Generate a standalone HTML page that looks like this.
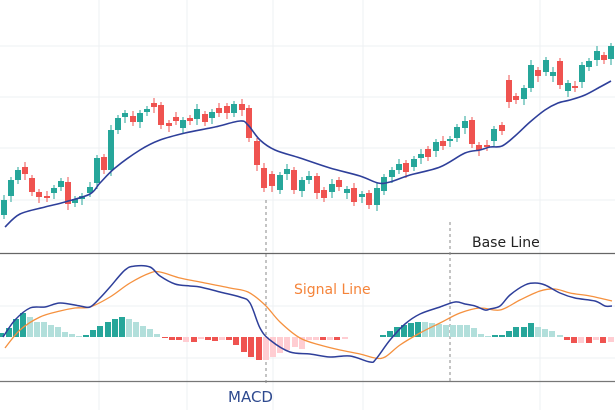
<!DOCTYPE html>
<html><head><meta charset="utf-8"><style>
html,body{margin:0;padding:0;background:#fff;width:615px;height:410px;overflow:hidden}
svg{display:block}
text{font-family:"DejaVu Sans","Liberation Sans",sans-serif}
</style></head><body>
<svg id="s" width="615" height="410" viewBox="0 0 615 410" xmlns="http://www.w3.org/2000/svg">
<g stroke="#eef0f3" stroke-width="1">
<line x1="0" y1="46" x2="615" y2="46"/><line x1="0" y1="97" x2="615" y2="97"/>
<line x1="0" y1="148" x2="615" y2="148"/><line x1="0" y1="200" x2="615" y2="200"/>
<line x1="0" y1="306" x2="615" y2="306"/><line x1="0" y1="358" x2="615" y2="358"/>
<line x1="99" y1="0" x2="99" y2="410"/><line x1="187" y1="0" x2="187" y2="410"/>
<line x1="273" y1="0" x2="273" y2="410"/><line x1="363" y1="0" x2="363" y2="410"/>
<line x1="540" y1="0" x2="540" y2="410"/>
</g>
<line x1="0" y1="253.5" x2="615" y2="253.5" stroke="#666" stroke-width="1.3"/>
<line x1="0" y1="381.5" x2="615" y2="381.5" stroke="#777" stroke-width="1.3"/>
<line x1="266" y1="200" x2="266" y2="386" stroke="#888" stroke-dasharray="3,3"/>
<line x1="450" y1="222" x2="450" y2="381" stroke="#888" stroke-dasharray="3,3"/>
<g id="c"></g>
<text x="472" y="247" font-size="14" fill="#222">Base Line</text>
<text x="294" y="294" font-size="14" fill="#f5843a">Signal Line</text>
<text x="228" y="402" font-size="15" fill="#2e4a8f">MACD</text>
</svg>
<script>
var G="#26a69a",R="#ef5350",LG="#b2dfdb",LR="#ffcdd2";
var cs=[[4,'G',200,215],[11,'G',180,196],[18,'G',170,180],[25,'R',167,174],[32,'R',178,192],[39,'R',192,197],[47,'R',196,198],[54,'G',188,193],[61,'G',181,187],[68,'R',182,204],[75,'G',199,203],[82,'G',196,199],[90,'G',187,193],[97,'G',158,183],[104,'R',157,170],[111,'G',130,170],[118,'G',118,130],[125,'G',113,117],[133,'R',116,122],[140,'G',113,122],[147,'G',109,112],[154,'R',103,107],[161,'R',105,125],[169,'R',123,126],[176,'R',117,121],[183,'G',120,128],[190,'R',118,121],[197,'G',109,119],[205,'R',114,122],[212,'G',112,118],[219,'R',108,113],[227,'R',106,113],[234,'G',104,113],[242,'R',104,110],[249,'R',108,138],[257,'R',141,165],[264,'R',168,188],[272,'R',174,186],[280,'G',175,190],[287,'G',169,174],[294,'R',170,190],[302,'G',180,191],[309,'G',176,180],[317,'R',176,193],[324,'R',190,198],[332,'G',184,192],[339,'R',180,187],[347,'G',189,193],[354,'R',188,202],[362,'G',194,197],[369,'R',193,205],[377,'G',188,205],[384,'G',177,191],[392,'G',170,177],[399,'G',164,170],[406,'R',163,172],[414,'G',159,167],[421,'G',154,158],[428,'R',149,157],[436,'G',142,151],[443,'R',141,146],[450,'G',139,141],[457,'G',127,138],[465,'G',121,128],[472,'R',120,144],[479,'R',145,150],[487,'R',145,147],[494,'G',129,141],[502,'R',125,131],[509,'R',80,102],[516,'R',96,100],[524,'G',88,99],[531,'G',65,88],[538,'R',70,76],[546,'G',60,72],[553,'G',72,76],[560,'R',61,85],[568,'G',83,91],[575,'R',86,88],[582,'G',65,82],[589,'G',61,67],[597,'G',51,60],[604,'R',55,60],[611,'G',46,59]];
var h='';
cs.forEach(function(c,i){var col=c[1]=='G'?G:R;var w=(i%3==0)?5:3;
h+='<line x1="'+c[0]+'" x2="'+c[0]+'" y1="'+(c[2]-w)+'" y2="'+(c[3]+4+(i%2)*2)+'" stroke="'+col+'" stroke-width="1"/>';
h+='<rect x="'+(c[0]-3)+'" y="'+c[2]+'" width="6" height="'+Math.max(2,c[3]-c[2])+'" fill="'+col+'"/>';});
var hb=[[1,'G',4],[9,'G',9],[16,'G',18],[23,'G',24],[30,'g',20],[37,'g',15],[44,'g',15],[51,'g',12],[58,'g',10],[65,'g',5],[72,'g',3],[79,'g',1],[86,'G',2],[93,'G',7],[100,'G',11],[108,'G',15],[115,'G',18],[122,'G',20],[129,'g',18],[136,'g',15],[143,'g',11],[150,'g',8],[157,'g',3],[165,'R',-1],[172,'R',-3],[179,'R',-3],[186,'r',-5],[194,'R',-5],[201,'r',-2],[208,'R',-3],[215,'R',-4],[222,'r',-3],[229,'R',-3],[236,'R',-8],[244,'R',-15],[251,'R',-20],[259,'R',-23],[266,'r',-23],[273,'r',-20],[280,'r',-16],[287,'r',-13],[295,'r',-10],[302,'r',-12],[309,'r',-3],[316,'r',-3],[323,'R',-3],[330,'r',-3],[337,'R',-3],[345,'r',-2],[383,'G',2],[390,'G',6],[397,'G',10],[404,'G',12],[411,'G',14],[418,'G',15],[425,'g',15],[432,'g',14],[439,'g',13],[446,'g',12],[453,'g',12],[460,'g',12],[467,'g',12],[474,'g',9],[481,'g',3],[488,'g',1],[495,'G',2],[502,'G',2],[509,'G',6],[516,'G',10],[524,'G',10],[531,'G',14],[538,'g',10],[545,'g',8],[552,'g',6],[560,'g',2],[567,'R',-3],[574,'R',-6],[581,'r',-6],[589,'R',-6],[596,'r',-3],[603,'R',-6],[611,'r',-5]];
var cm={G:G,g:LG,R:R,r:LR};
hb.forEach(function(b){var v=b[2];h+='<rect x="'+(b[0]-3)+'" y="'+(v>0?337-v:337)+'" width="6" height="'+Math.max(1,Math.abs(v))+'" fill="'+cm[b[1]]+'"/>';});
function pl(s,col,w){var p=s.split(' ').map(function(t){return t.split(',').map(Number);});
var d='M'+p[0][0]+','+p[0][1];
for(var i=0;i<p.length-1;i++){var p0=p[i-1]||p[i],p1=p[i],p2=p[i+1],p3=p[i+2]||p2;
var c1x=p1[0]+(p2[0]-p0[0])/6,c1y=p1[1]+(p2[1]-p0[1])/6,c2x=p2[0]-(p3[0]-p1[0])/6,c2y=p2[1]-(p3[1]-p1[1])/6;
d+=' C'+c1x.toFixed(1)+','+c1y.toFixed(1)+' '+c2x.toFixed(1)+','+c2y.toFixed(1)+' '+p2[0]+','+p2[1];}
return '<path fill="none" stroke="'+col+'" stroke-width="'+w+'" stroke-linejoin="round" d="'+d+'"/>';}
h+=pl("5,227 20,214 45,207 65,202 90,194 100,183 115,168 140,150 160,140 185,133 215,127 240,121 248,125 260,140 275,150 300,158 330,168 360,176 378,183 390,182 410,175 440,167 465,153 480,150 490,147 502,146 515,136 530,122 545,110 558,103 570,100 585,95 600,87 611,81","#2e3f9a",1.6);
h+=pl("5,348 20,330 40,317 60,311 75,308 90,307 110,297 130,283 150,273 160,272 180,278 200,282 230,288 248,292 265,305 280,322 300,338 320,345 340,350 360,354 375,358 385,357 400,345 420,333 440,323 460,313 480,308 500,310 520,300 540,291 555,289 570,293 590,296 612,301","#f5913f",1.3);
h+=pl("3,337 15,320 30,308 45,307 60,303 80,306 90,307 100,298 110,287 125,270 135,266 150,267 160,276 175,284 190,286 200,287 220,292 240,297 250,303 260,328 270,340 290,352 310,354 330,357 350,356 370,362 376,359 390,340 405,324 420,314 440,307 455,302 465,304 475,306 485,310 490,309 500,306 510,295 525,285 535,283 545,285 560,293 575,298 595,301 605,306 612,306","#2e3f9a",1.5);
document.getElementById('c').innerHTML=h;
</script>
</body></html>
